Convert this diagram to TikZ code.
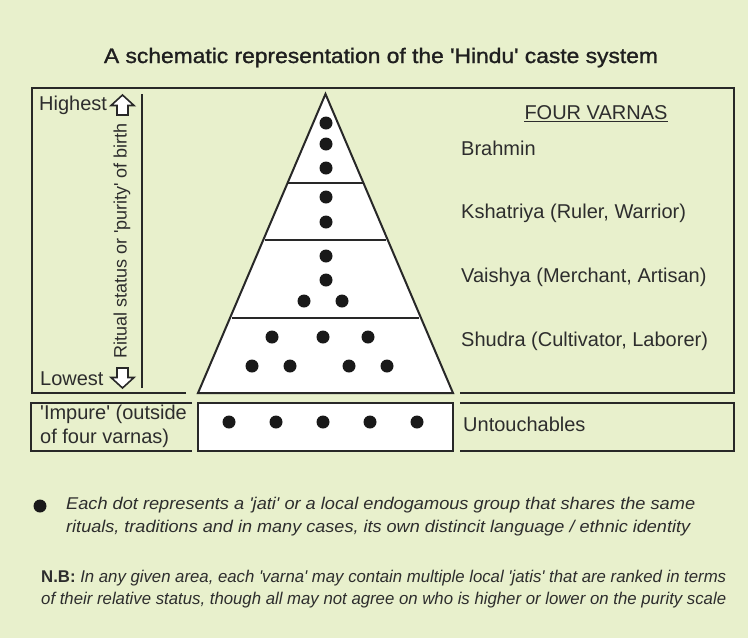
\documentclass[tikz,border=0pt]{standalone}
\usepackage{fontspec}
\usepackage{graphicx}
\setmainfont{Liberation Sans}[Ligatures=TeXOff]
\newfontfamily\titlefont{Liberation Sans}[Ligatures=TeXOff,FakeBold=1.2]
\definecolor{bg}{RGB}{232,240,204}
\definecolor{ink}{RGB}{40,40,40}
\definecolor{txt}{RGB}{45,45,45}
\newcommand\fitw[2]{\resizebox{#1}{\height}{#2}}
\begin{document}
\begin{tikzpicture}[x=1pt,y=-1pt,
  frame/.style={draw=ink,line width=2pt},
  dot/.style={circle,fill=black!90,inner sep=0pt,minimum size=13pt},
  lbl/.style={anchor=west,inner sep=0pt,text=txt,font=\fontsize{20}{23}\selectfont},
  note/.style={anchor=base west,inner sep=0pt,text=txt,font=\fontsize{17}{20}\selectfont\itshape},
  harrow/.style={draw=ink,line width=1.6pt,fill=white,line join=miter}]
\useasboundingbox (0,0) rectangle (748,638);
\fill[bg] (0,0) rectangle (748,638);
% title
\node[anchor=base,inner sep=0pt,text=black!88,font=\fontsize{21}{24}\selectfont\titlefont] (title) at (381,63) {\fitw{554pt}{A schematic representation of the 'Hindu' caste system}};
% upper frame
\coordinate (f1) at (32,393);
\coordinate (f2) at (186,393);
\coordinate (f3) at (460,393);
\coordinate (f4) at (734,393);
\draw[frame] (f2) -- (f1) -- (32,88) -- (734,88) -- (f4) -- (f3);
% pyramid
\coordinate (apex) at (325.5,94);
\coordinate (bl) at (198,393);
\coordinate (br) at (453,393);
\draw[draw=ink,line width=2pt,fill=white,line join=miter] (apex) -- (br) -- (bl) -- cycle;
\draw[draw=ink,line width=2pt] (288,183) -- (363,183);
\draw[draw=ink,line width=2pt] (265,240) -- (386,240);
\draw[draw=ink,line width=2pt] (232,318) -- (419,318);
% dots in pyramid
\foreach \n/\x/\y in {b1/326/123,b2/326/144,b3/326/168,k1/326/197,k2/326/222,
  v1/326/256,v2/326/280,v3/304/301,v4/342/301,
  s1/272/337,s2/323/337,s3/368/337,s4/252/366,s5/290/366,s6/349/366,s7/387/366}
  \node[dot] (\n) at (\x,\y) {};
% axis
\coordinate (axtop) at (142,94);
\coordinate (axbot) at (142,388);
\draw[draw=ink,line width=1.5pt] (axtop) -- (axbot);
\node[inner sep=0pt,rotate=90,text=txt,font=\fontsize{18}{21}\selectfont] (axlbl) at (122,241) {Ritual status or 'purity' of birth};
\node[lbl] (high) at (39,105) {Highest};
\node[lbl] (low) at (40,379) {Lowest};
\draw[harrow] (122.5,95) -- (134,105.5) -- (128,105.5) -- (128,115) -- (117,115) -- (117,105.5) -- (111,105.5) -- cycle;
\draw[harrow] (122.5,388) -- (134,377.5) -- (128,377.5) -- (128,368) -- (117,368) -- (117,377.5) -- (111,377.5) -- cycle;
% varna labels
\node[inner sep=0pt,text=txt,font=\fontsize{20}{23}\selectfont] (four) at (596,113) {FOUR VARNAS};
\draw[txt,line width=0.9pt] ([yshift=-2pt]four.base west) -- ([yshift=-2pt]four.base east);
\node[lbl] (brahmin) at (461,148) {Brahmin};
\node[lbl] (kshatriya) at (461,213) {Kshatriya (Ruler, Warrior)};
\node[lbl] (vaishya) at (461,277) {Vaishya (Merchant, Artisan)};
\node[lbl] (shudra) at (461,341) {Shudra (Cultivator, Laborer)};
% lower row
\draw[frame] (192,403) -- (31,403) -- (31,451) -- (192,451);
\draw[frame,fill=white] (198,403) rectangle (453,451);
\draw[frame] (460,403) -- (734,403) -- (734,451) -- (460,451);
\node[lbl,align=left,font=\fontsize{20}{24}\selectfont] (impure) at (40,426) {'Impure' (outside\\of four varnas)};
\foreach \n/\x in {u1/229,u2/276,u3/323,u4/370,u5/417}
  \node[dot] (\n) at (\x,422) {};
\node[lbl] (untouch) at (463,424) {Untouchables};
% notes
\node[dot] (legdot) at (40,506) {};
\node[note] (note1a) at (66,509) {\fitw{629pt}{Each dot represents a 'jati' or a local endogamous group that shares the same}};
\node[note] (note1b) at (66,532) {\fitw{624pt}{rituals, traditions and in many cases, its own distincit language / ethnic identity}};
\node[note] (note2a) at (41,582) {\fitw{685pt}{{\upshape\fontseries{b}\selectfont N.B:} In any given area, each 'varna' may contain multiple local 'jatis' that are ranked in terms}};
\node[note] (note2b) at (41,604) {\fitw{685pt}{of their relative status, though all may not agree on who is higher or lower on the purity scale}};
\end{tikzpicture}
\end{document}
